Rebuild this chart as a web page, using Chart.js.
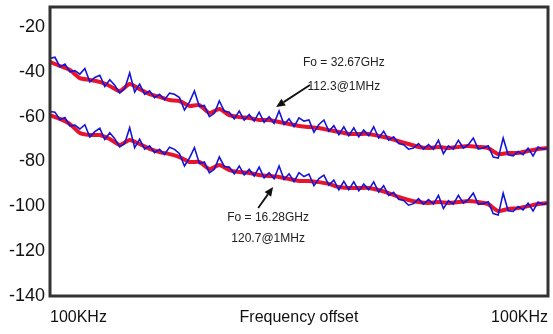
<!DOCTYPE html>
<html>
<head>
<meta charset="utf-8">
<script src="https://cdn.jsdelivr.net/npm/chart.js@4/dist/chart.umd.min.js"></script>
<style>
  html, body { margin: 0; padding: 0; background: #fff; }
  #wrap { width: 553px; height: 334px; }
</style>
</head>
<body>
<div id="wrap"><canvas id="chart"></canvas></div>
<script>
(() => {
  'use strict';

  // axis text
  const xLabels = ['100KHz', 'Frequency offset', '100KHz'];
  const yTicks = [-20, -40, -60, -80, -100, -120, -140];

  // phase noise, dBc/Hz – smoothed fit (every 2nd step) and raw trace (every step)
  const upperFit = [-35.6, -37.4, -39.2, -42.8, -43.6, -44.5, -46.3, -48.6, -45.4, -47.7,
    -49.9, -51.2, -52.6, -53.0, -55.2, -54.8, -58.4, -56.6, -59.3, -60.2,
    -60.6, -61.5, -61.5, -62.4, -63.3, -64.2, -64.6, -65.1, -66.0, -66.8,
    -67.7, -67.7, -67.7, -68.6, -69.5, -70.9, -72.2, -73.5, -74.0, -73.5,
    -74.0, -73.5, -73.1, -73.5, -74.0, -76.7, -76.2, -76.2, -75.3, -74.4, -74.0];
  const upperTrace = [-34.0, -33.5, -37.8, -36.5, -40.0, -39.5, -41.0, -38.5, -44.5, -42.5,
    -41.5, -46.5, -43.5, -46.0, -49.5, -47.5, -40.5, -49.0, -45.5, -50.0,
    -48.5, -51.5, -50.0, -52.5, -49.5, -50.0, -51.5, -57.0, -53.5, -48.5,
    -55.5, -55.0, -60.0, -58.5, -53.0, -57.5, -58.0, -61.0, -57.5, -61.5,
    -59.0, -62.0, -58.0, -62.5, -60.0, -63.0, -57.5, -63.5, -61.0, -64.5,
    -60.5, -62.0, -61.5, -67.0, -63.5, -61.5, -66.5, -64.0, -68.0, -64.5,
    -68.5, -65.0, -69.0, -66.0, -68.5, -64.5, -69.5, -66.5, -70.5, -69.0,
    -72.0, -72.5, -74.5, -74.0, -72.0, -74.5, -72.5, -74.5, -70.5, -76.5,
    -73.0, -74.5, -70.5, -74.0, -72.5, -69.5, -74.5, -74.0, -73.0, -78.0,
    -78.5, -69.5, -77.0, -77.5, -75.5, -77.0, -74.0, -77.5, -73.5, -74.5, -74.0];
  const lowerFit = [-59.3, -61.0, -63.3, -67.3, -68.2, -68.2, -70.0, -72.6, -70.4, -72.2,
    -74.4, -75.8, -76.7, -78.0, -80.2, -80.2, -83.4, -81.6, -83.8, -84.7,
    -85.1, -86.0, -86.5, -86.9, -87.8, -88.7, -88.7, -89.2, -90.0, -91.4,
    -91.8, -91.8, -91.8, -92.7, -94.1, -95.8, -97.2, -98.1, -98.5, -98.1,
    -98.5, -98.1, -97.6, -98.1, -99.0, -102.1, -101.2, -100.8, -99.9, -99.0, -98.5];
  const lowerTrace = [-57.7, -58.0, -61.4, -60.4, -64.1, -63.8, -65.5, -63.6, -69.1, -66.7,
    -65.2, -70.2, -67.2, -69.8, -73.5, -72.0, -64.9, -73.8, -70.0, -74.5,
    -73.0, -76.1, -74.6, -76.9, -73.6, -74.6, -76.5, -82.0, -78.5, -73.8,
    -80.9, -80.2, -85.0, -83.5, -78.0, -82.2, -82.5, -85.5, -82.0, -86.0,
    -83.5, -86.5, -82.5, -87.3, -85.0, -87.7, -82.0, -88.0, -85.5, -89.0,
    -85.0, -86.7, -85.6, -90.8, -87.6, -86.1, -90.5, -88.3, -92.6, -88.8,
    -92.6, -89.1, -93.1, -90.1, -92.6, -89.1, -93.6, -90.8, -95.1, -93.8,
    -96.9, -97.4, -99.5, -98.8, -96.6, -99.0, -97.0, -99.0, -95.1, -101.0,
    -97.5, -99.0, -95.1, -98.6, -97.0, -94.1, -99.1, -98.8, -98.0, -103.2,
    -103.9, -94.2, -102.0, -102.3, -100.1, -101.6, -98.6, -102.1, -98.1, -99.1, -98.5];

  // callouts, placed in data units
  const notes = [
    { lines: ['Fo = 32.67GHz', '112.3@1MHz'], x: 59.0, y: [-36.1, -46.8], from: [52.2, -45.9], to: [45.4, -55.7] },
    { lines: ['Fo = 16.28GHz', '120.7@1MHz'], x: 43.8, y: [-105.2, -114.6], from: [41.8, -100.7], to: [44.8, -91.4] },
  ];

  const FONT = "'Liberation Sans Narrow', 'Arial Narrow', 'Liberation Sans', sans-serif";
  const RED = '#e8142c';
  const BLUE = '#1414d8';

  const trace = (arr) => arr.map((v, i) => ({ x: i, y: v }));
  const fit = (arr) => arr.map((v, k) => ({ x: k * 2, y: v }));

  const frame = {
    id: 'frame',
    afterDraw(chart) {
      const { ctx, chartArea: a } = chart;
      ctx.save();
      ctx.strokeStyle = '#333';
      ctx.lineWidth = 3;
      ctx.strokeRect(a.left, a.top, a.right - a.left, a.bottom - a.top);
      ctx.restore();
    },
  };

  const callouts = {
    id: 'callouts',
    afterDatasetsDraw(chart) {
      const { ctx, scales: { x, y } } = chart;
      ctx.save();
      ctx.textAlign = 'center';
      ctx.textBaseline = 'middle';
      notes.forEach(n => {
        ctx.font = '12px ' + FONT;
        ctx.fillStyle = '#222';
        n.lines.forEach((t, i) => ctx.fillText(t, x.getPixelForValue(n.x), y.getPixelForValue(n.y[i])));
        const x0 = x.getPixelForValue(n.from[0]), y0 = y.getPixelForValue(n.from[1]);
        const x1 = x.getPixelForValue(n.to[0]), y1 = y.getPixelForValue(n.to[1]);
        const ang = Math.atan2(y1 - y0, x1 - x0);
        const hl = 9, hw = 4;
        const bx = x1 - hl * Math.cos(ang), by = y1 - hl * Math.sin(ang);
        ctx.strokeStyle = '#111';
        ctx.lineWidth = 1.8;
        ctx.beginPath();
        ctx.moveTo(x0, y0);
        ctx.lineTo(bx, by);
        ctx.stroke();
        ctx.fillStyle = '#111';
        ctx.beginPath();
        ctx.moveTo(x1, y1);
        ctx.lineTo(bx + hw * Math.sin(ang), by - hw * Math.cos(ang));
        ctx.lineTo(bx - hw * Math.sin(ang), by + hw * Math.cos(ang));
        ctx.closePath();
        ctx.fill();
      });
      ctx.restore();
    },
  };

  const line = (data, color, width) => ({
    data, borderColor: color, borderWidth: width, pointRadius: 0, tension: 0, fill: false,
  });

  new Chart(document.getElementById('chart'), {
    type: 'line',
    data: {
      datasets: [
        line(trace(upperTrace), BLUE, 1.6),
        line(trace(lowerTrace), BLUE, 1.6),
        Object.assign(line(fit(upperFit), RED, 4), { tension: 0.2 }),
        Object.assign(line(fit(lowerFit), RED, 4), { tension: 0.2 }),
      ],
    },
    options: {
      responsive: true,
      maintainAspectRatio: false,
      animation: false,
      layout: { padding: { top: 7, right: 5, left: 0, bottom: 0 } },
      plugins: { legend: { display: false }, tooltip: { enabled: false } },
      scales: {
        x: {
          type: 'linear', min: 0, max: 100,
          grid: { display: false, drawTicks: false },
          border: { display: false },
          afterBuildTicks: s => { s.ticks = [0, 50, 100].map(v => ({ value: v })); },
          afterFit: s => { s.height = 38; s.paddingLeft = 0; s.paddingRight = 0; },
          ticks: {
            align: 'inner', autoSkip: false, maxRotation: 0, padding: 12,
            color: '#111', font: { family: FONT, size: 16 },
            callback: (v, i) => xLabels[i],
          },
        },
        y: {
          min: -140, max: -11.08,
          grid: { display: false, drawTicks: false },
          border: { display: false },
          afterBuildTicks: s => { s.ticks = yTicks.map(v => ({ value: v })); },
          afterFit: s => { s.width = 50; s.paddingTop = 0; s.paddingBottom = 0; },
          ticks: { padding: 5, color: '#111', font: { family: FONT, size: 18 } },
        },
      },
    },
    plugins: [frame, callouts],
  });
})();
</script>
</body>
</html>
